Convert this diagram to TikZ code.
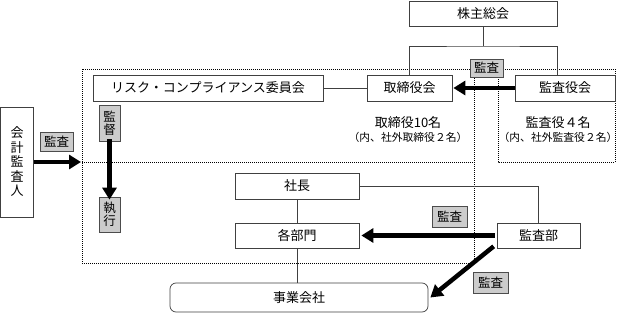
\documentclass[tikz,border=0pt]{standalone}
\usepackage{fontspec}
\setmainfont{Noto Sans CJK JP}
\usetikzlibrary{arrows.meta}
\begin{document}
\begin{tikzpicture}[x=1pt,y=-1pt,
  box/.style={draw=black!75, fill=white, line width=0.7pt, inner sep=0pt, font=\fontsize{13}{15}\selectfont},
  tag/.style={draw=black!70, fill=black!20, line width=0.7pt, inner sep=0pt, align=center, font=\fontsize{12.5}{13}\selectfont},
  note/.style={inner sep=0pt, font=\fontsize{13}{15}\selectfont},
  subnote/.style={inner sep=0pt, font=\fontsize{10.8}{12}\selectfont},
  conn/.style={draw=black!75, line width=0.7pt},
  dots/.style={draw=black, line width=0.8pt, dash pattern=on 1pt off 1pt},
  bigarrow/.style={line width=4.5pt, -{Triangle[length=12pt,width=14pt]}}]
\useasboundingbox (0,0) rectangle (618,313);
% dotted regions
\draw[dots] (82,69) rectangle (474,263);
\draw[dots] (82,162) -- (474,162);
\draw[dots] (498,69) rectangle (615,162);
% boxes
\node[box, minimum width=148pt, minimum height=25pt] (kabu) at (483,14) {株主総会};
\node[box, minimum width=85pt, minimum height=26pt] (tori) at (409.5,88) {取締役会};
\node[box, minimum width=100pt, minimum height=26pt] (kyaku) at (565,88) {監査役会};
\node[box, minimum width=230pt, minimum height=26pt] (risk) at (208,88) {リスク・コンプライアンス委員会};
\node[box, minimum width=33pt, minimum height=110pt, align=center, font=\fontsize{13}{14.5}\selectfont] (kaikei) at (17,162) {会\\計\\監\\査\\人};
\node[box, minimum width=124pt, minimum height=26pt] (shacho) at (297,186) {社長};
\node[box, minimum width=124pt, minimum height=25pt] (kakubu) at (297,235.5) {各部門};
\node[box, minimum width=83pt, minimum height=25pt] (kansabu) at (538.5,235.5) {監査部};
\node[box, rounded corners=6pt, minimum width=258pt, minimum height=29pt] (jigyo) at (299,297.5) {事業会社};
% notes
\node[note] (n1) at (408,123) {取締役10名};
\node[subnote] (n2) at (408,137) {（内、社外取締役２名）};
\node[note] (n3) at (558,123) {監査役４名};
\node[subnote] (n4) at (558,137) {（内、社外監査役２名）};
% connectors
\coordinate (bar) at (483,46);
\draw[conn] (kabu.south) -- (bar);
\draw[conn] (tori.north) |- (bar) -| ([xshift=-8pt]kyaku.north);
\draw[conn] (risk.east) -- (tori.west);
\draw[conn] (shacho.east) -| (kansabu.north);
\draw[conn] (shacho.south) -- (kakubu.north);
\draw[conn] (kakubu.south) -- (kakubu.south |- jigyo.north);
% tags
\node[tag, minimum width=33pt, minimum height=18pt] (t1) at (486.5,68) {監査};
\node[tag, minimum width=21pt, minimum height=36pt, font=\fontsize{12.5}{13}\selectfont] (kantoku) at (109.5,123) {監\\督};
\node[tag, minimum width=21pt, minimum height=35pt, font=\fontsize{12.5}{13}\selectfont] (shikko) at (109.5,214.5) {執\\行};
\node[tag, minimum width=33pt, minimum height=19pt] (t2) at (56.5,141.5) {監査};
\node[tag, minimum width=35pt, minimum height=21pt] (t3) at (449.5,216.5) {監査};
\node[tag, minimum width=35pt, minimum height=21pt] (t4) at (490.5,282.5) {監査};
% thick arrows
\coordinate (dleft) at (81,162);
\draw[bigarrow] (kyaku.west) -- ([xshift=1pt]tori.east);
\draw[bigarrow] ([yshift=2pt]kantoku.south) -- ([yshift=-3pt]shikko.north);
\draw[bigarrow] (kaikei.east) -- (dleft);
\draw[bigarrow] ([xshift=-2pt]kansabu.west) -- ([xshift=2pt]kakubu.east);
\draw[bigarrow] ([xshift=-3pt,yshift=2pt]kansabu.south west) -- ([xshift=2pt]jigyo.east);
\end{tikzpicture}
\end{document}
